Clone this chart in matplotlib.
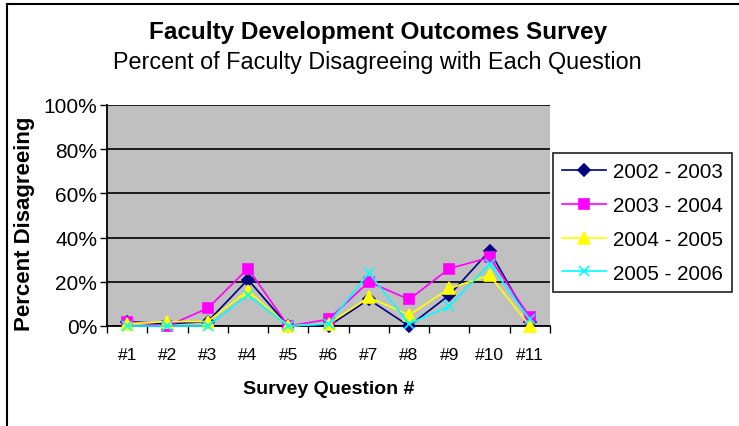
import matplotlib
matplotlib.use("Agg")
import matplotlib.pyplot as plt
from matplotlib.lines import Line2D
import numpy as np

plt.rcParams['font.family'] = ['Liberation Sans', 'DejaVu Sans']

questions = ["#1", "#2", "#3", "#4", "#5", "#6", "#7", "#8", "#9", "#10", "#11"]
s_2002 = [2, 1, 2, 21, 0, 0, 12, 0, 14, 34, 2]
s_2003 = [2, 0, 8, 26, 0, 3, 20, 12, 26, 31, 4]
s_2004 = [1, 2, 2, 16, 0, 1, 13, 5, 17, 23, 0]
s_2005 = [0, 0, 0, 14, 0, 1, 24, 1, 9, 28, 3]
series_labels = ["2002 - 2003", "2003 - 2004", "2004 - 2005", "2005 - 2006"]
y_ticks = [0, 20, 40, 60, 80, 100]

W, H = 739, 427
fig = plt.figure(figsize=(W / 100, H / 100), dpi=100)
fig.patch.set_facecolor("white")

# chart frame (left and top visible)
fig.add_artist(Line2D([7 / W, 7 / W], [0, 1 - 5 / H], color="black", lw=1.5, transform=fig.transFigure))
fig.add_artist(Line2D([7 / W, 1], [1 - 5 / H, 1 - 5 / H], color="black", lw=1.5, transform=fig.transFigure))

left, right, top, bottom = 107, 550, 106, 327
ax = fig.add_axes([left / W, 1 - bottom / H, (right - left) / W, (bottom - top) / H])
ax.set_facecolor("#C0C0C0")

x = np.arange(1, len(questions) + 1)
styles = [
    (s_2002, "#000080", "D", 6),
    (s_2003, "#FF00FF", "s", 7),
    (s_2004, "#FFFF00", "^", 8),
    (s_2005, "#00FFFF", "x", 7),
]
for (vals, col, mk, ms), lab in zip(styles, series_labels):
    ax.plot(x, vals, color=col, lw=1.2, marker=mk, markersize=ms,
            markerfacecolor=col, markeredgecolor=col, markeredgewidth=1.2,
            label=lab, clip_on=False, zorder=3)

ax.set_xlim(0.5, len(questions) + 0.5)
ax.set_ylim(0, 100)
ax.set_yticks(y_ticks)
ax.set_yticklabels([f"{v}%" for v in y_ticks])
ax.yaxis.grid(True, color="black", lw=1.2)
ax.set_axisbelow(True)

ax.set_xticks(np.arange(0.5, len(questions) + 1.0, 1.0))
ax.set_xticklabels([])
ax.set_xticks(x, minor=True)
ax.set_xticklabels(questions, minor=True)
ax.tick_params(axis="x", which="major", direction="out", length=5, width=1, color="black")
ax.tick_params(axis="x", which="minor", length=0, pad=15, labelsize=12.5)
ax.tick_params(axis="y", direction="out", length=5, width=1, labelsize=15, pad=2)

for side in ["top", "right"]:
    ax.spines[side].set_visible(False)
for side in ["left", "bottom"]:
    ax.spines[side].set_color("black")
    ax.spines[side].set_linewidth(1.3)

fig.text(378 / W, 1 - 33 / H, "Faculty Development Outcomes Survey", ha="center", va="center",
         fontsize=17.5, fontweight="bold")
fig.text(377 / W, 1 - 63 / H, "Percent of Faculty Disagreeing with Each Question", ha="center",
         va="center", fontsize=16.8)
fig.text(25 / W, 1 - 224 / H, "Percent Disagreeing", ha="center", va="center", rotation=90,
         fontsize=16, fontweight="bold")
fig.text(329 / W, 1 - 390 / H, "Survey Question #", ha="center", va="center",
         fontsize=14, fontweight="bold")

leg = fig.legend(loc="upper left", bbox_to_anchor=(553 / W, 1 - 154 / H), frameon=True,
                 fancybox=False, fontsize=14.8, handlelength=2.15, handletextpad=0.3,
                 borderpad=0.45, labelspacing=0.72, borderaxespad=0)
leg.get_frame().set_edgecolor("black")
leg.get_frame().set_linewidth(1.3)

fig.savefig("out.png", dpi=100)
